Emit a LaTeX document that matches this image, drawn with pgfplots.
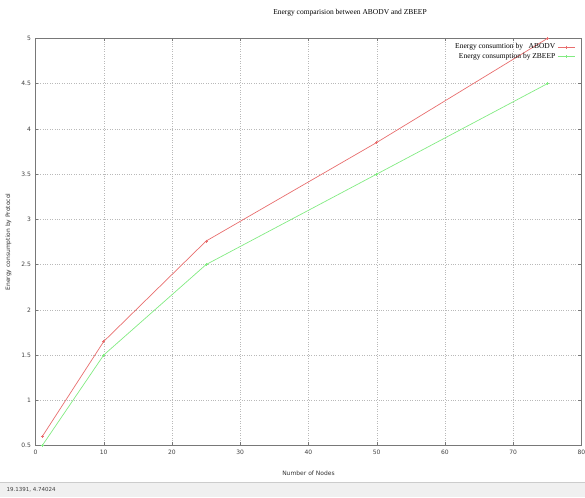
\documentclass[border=0pt]{standalone}
\usepackage{pgfplots}
\pgfplotsset{compat=1.18}
\usepackage{fontspec}
\setmainfont{Liberation Serif}
\setsansfont{DejaVu Sans}
\definecolor{redline}{RGB}{232,110,110}
\definecolor{greenline}{RGB}{130,235,130}
\definecolor{gridgray}{RGB}{185,185,185}
\definecolor{framegray}{RGB}{120,120,120}
\begin{document}
\begin{tikzpicture}[x=1pt,y=1pt]
\path[use as bounding box] (0,0) rectangle (585,497);
\fill[gray!12] (0,0) rectangle (585,15);
\draw[gray!40] (0,15) -- (585,15);
\node[anchor=west,font=\sffamily\fontsize{5.5}{6}\selectfont,text=black!75] at (3,7) {19.1391, 4.74024};
\node[font=\fontsize{7.5}{9}\selectfont] at (350,484) {Energy comparision between ABODV and ZBEEP};
\begin{axis}[
  at={(52,57)}, anchor=south west,
  width=546pt, height=407pt, scale only axis,
  xmin=0, xmax=80, ymin=0.5, ymax=5,
  xtick={0,10,...,80},
  ytick={0.5,1,1.5,2,2.5,3,3.5,4,4.5,5},
  yticklabels={0.5,1,1.5,2,2.5,3,3.5,4,4.5,5},
  grid=major,
  major grid style={gridgray, dash pattern=on 0.6pt off 1.8pt, line width=0.4pt},
  axis line style={framegray, line width=0.6pt},
  tick style={framegray, line width=0.4pt},
  major tick length=3pt,
  tick align=inside,
  xtick pos=both, ytick pos=both,
  /pgf/number format/assume math mode=true,
  ticklabel style={font=\sffamily\fontsize{6}{7}\selectfont, text=black!75},
  xticklabel style={yshift=-1pt},
  yticklabel style={xshift=-1pt},
  xlabel={Number of Nodes},
  ylabel={Energy consumption by Protocol},
  label style={font=\sffamily\fontsize{6}{7}\selectfont, text=black!80},
  xlabel style={at={(axis description cs:0.5,0)}, yshift=-28pt, anchor=center},
  ylabel style={at={(axis description cs:0,0.5)}, yshift=27pt, anchor=center},
  legend plot pos=right,
  legend cell align=right,
  legend style={at={(rel axis cs:0.991,0.995)}, anchor=north east, draw=none, fill=none,
    font=\fontsize{7.5}{9}\selectfont, row sep=-1pt, inner sep=1pt},
  legend image post style={line width=1pt},
]
\addplot[redline, line width=0.7pt, mark=+, mark size=1.5pt] coordinates {
  (1,0.6) (10,1.65) (25,2.76) (50,3.85) (75,5.0)};
\addlegendentry{Energy consumtion by \ \ ABODV}
\addplot[greenline, line width=0.7pt, mark=+, mark size=1.5pt] coordinates {
  (1,0.5) (10,1.5) (25,2.5) (50,3.5) (75,4.5)};
\addlegendentry{Energy consumption by ZBEEP}
\end{axis}
\end{tikzpicture}
\end{document}
